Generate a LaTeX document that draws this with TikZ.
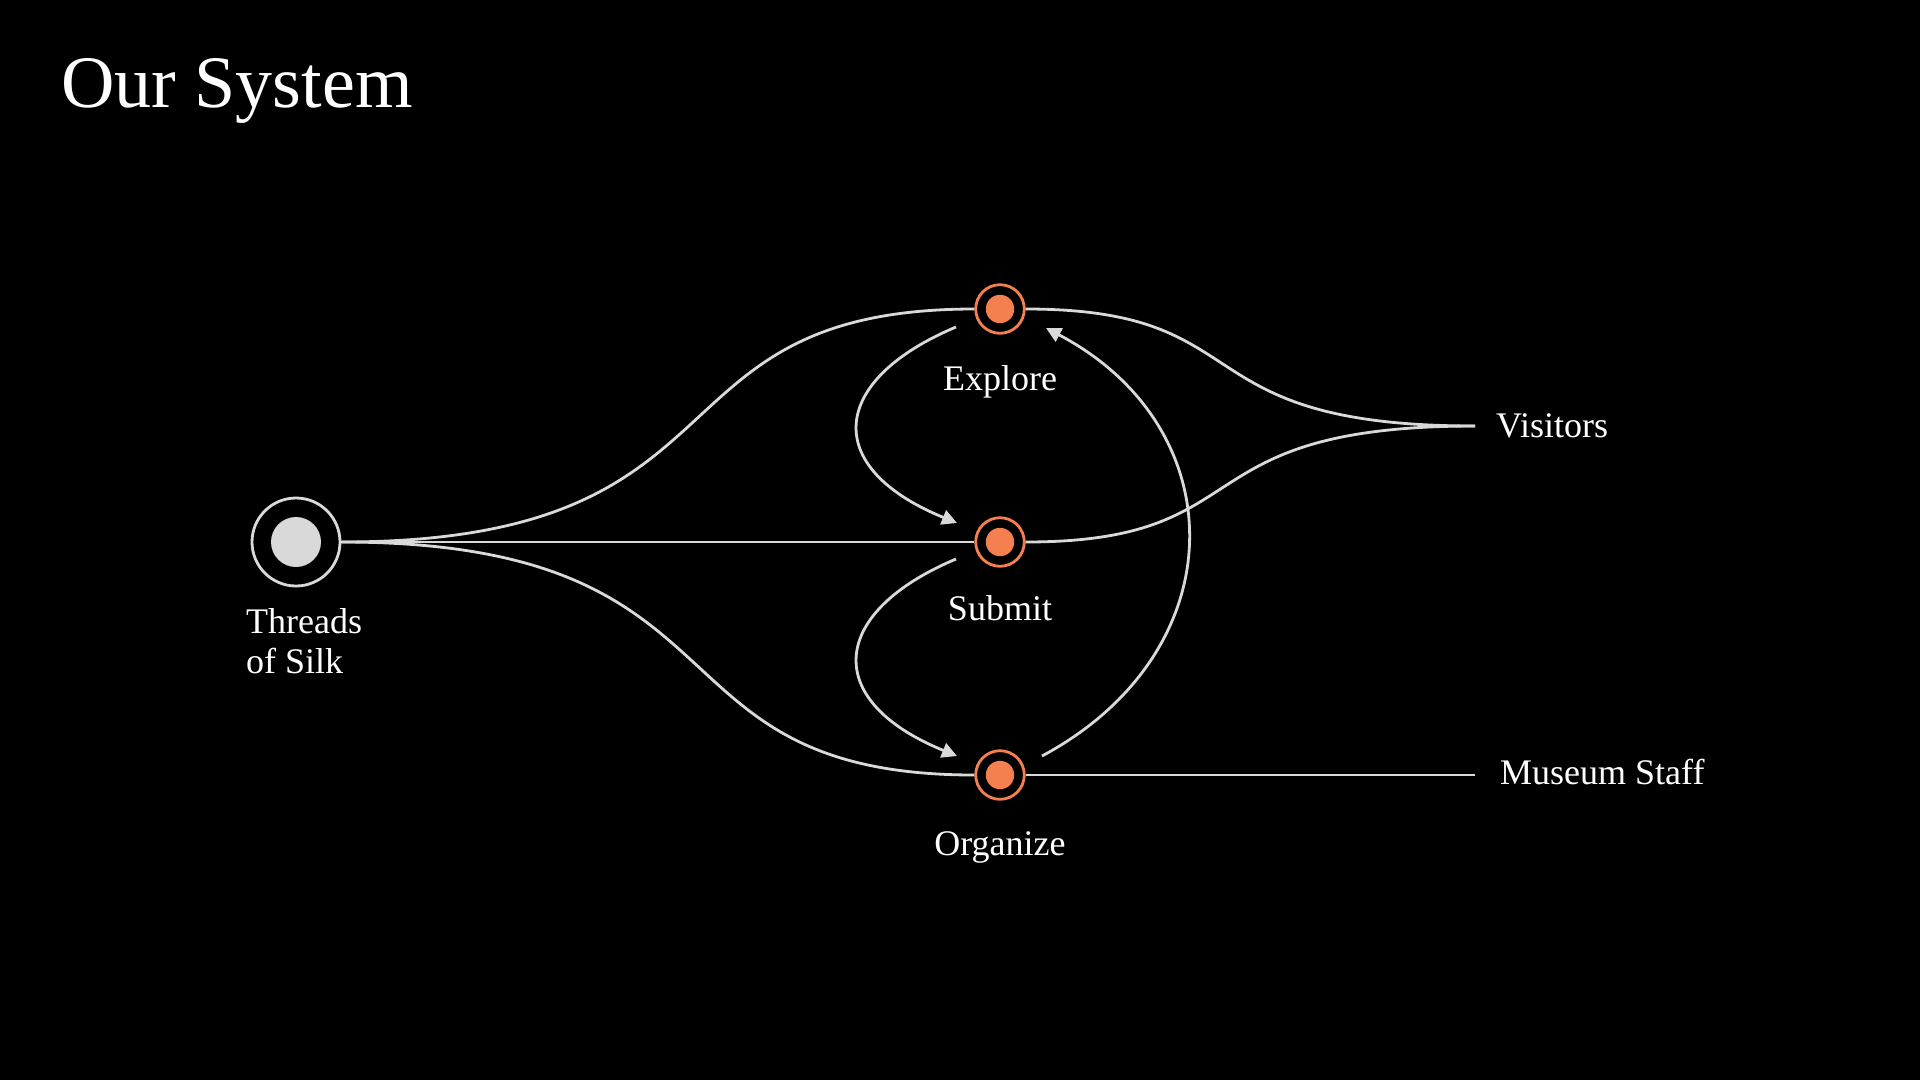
\documentclass[tikz,border=0pt]{standalone}
\usepackage{fontspec}
\setmainfont{Liberation Serif}
\usetikzlibrary{arrows.meta,calc}
\definecolor{lg}{HTML}{D9D9D9}
\definecolor{org}{HTML}{F5804F}
\tikzset{
  conn/.style={draw=lg, line width=2.8pt},
  arr/.style={conn, -{Triangle[length=15pt,width=15pt]}},
  ring/.style={circle, draw=org, line width=2.8pt, minimum size=48.6pt, inner sep=0pt},
  dot/.style={circle, fill=org, minimum size=28.4pt, inner sep=0pt},
  lbl/.style={text=white, font=\fontsize{36}{40}\selectfont, inner sep=0pt},
}
\begin{document}
\begin{tikzpicture}[x=1pt,y=-1pt]
\fill[black] (0,0) rectangle (1920,1080);
\useasboundingbox (0,0) rectangle (1920,1080);
% title
\node[text=white, font=\fontsize{74}{80}\selectfont, anchor=base west, inner sep=0pt] (title) at (61,107) {Our System};
% source node
\node[circle, draw=lg, line width=2.8pt, minimum size=88pt, inner sep=0pt] (T) at (296,542) {};
\node[circle, fill=lg, minimum size=50pt, inner sep=0pt] (Tin) at (T) {};
% activity nodes
\node[ring] (E) at (1000,309) {};
\node[dot] (Ein) at (E) {};
\node[ring] (S) at (1000,542) {};
\node[dot] (Sin) at (S) {};
\node[ring] (O) at (1000,775) {};
\node[dot] (Oin) at (O) {};
% endpoints
\coordinate (V) at (1475,426);
\coordinate (M) at (1475,775);
% labels
\node[lbl, anchor=base] (Elbl) at (1000,390) {Explore};
\node[lbl, anchor=base] (Slbl) at (1000,620) {Submit};
\node[lbl, anchor=base] (Olbl) at (1000,855) {Organize};
\node[lbl, anchor=base west] (Vlbl) at (1496,437) {Visitors};
\node[lbl, anchor=base west] (Mlbl) at (1500,784) {Museum Staff};
\node[lbl, anchor=base west] (Tl1) at (246,633) {Threads};
\node[lbl, anchor=base west] (Tl2) at (246,673) {of Silk};
% connectors from source
\draw[conn] (T.east) .. controls +(420,0) and +(-336,0) .. (E.west);
\draw[conn] (T.east) -- (S.west);
\draw[conn] (T.east) .. controls +(420,0) and +(-336,0) .. (O.west);
% connectors to users
\draw[conn] (E.east) .. controls +(239,0) and +(-298,0) .. (V);
\draw[conn] (S.east) .. controls +(239,0) and +(-298,0) .. (V);
\draw[conn] (O.east) -- (M);
% loop arrows
\coordinate (a1s) at ($(E)+(-44,18)$);
\coordinate (a1e) at ($(S)+(-43,-19)$);
\coordinate (a2s) at ($(S)+(-44,17)$);
\coordinate (a2e) at ($(O)+(-43,-19)$);
\coordinate (a3s) at ($(O)+(42,-19)$);
\coordinate (a3e) at ($(E)+(46,19)$);
\draw[arr] (a1s) .. controls +(-126,53) and +(-137,-56) .. (a1e);
\draw[arr] (a2s) .. controls +(-126,53) and +(-137,-56) .. (a2e);
\draw[arr] (a3s) .. controls +(194,-104) and +(190,100) .. (a3e);
\end{tikzpicture}
\end{document}
